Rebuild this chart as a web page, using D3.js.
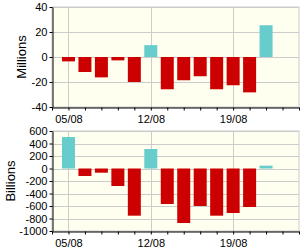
<!DOCTYPE html>
<html>
<head>
<meta charset="utf-8">
<script src="https://cdn.jsdelivr.net/npm/d3@7"></script>
<style>
  body { margin: 0; background: #fff; }
  svg { display: block; font-family: "Liberation Sans", Arial, sans-serif; }
</style>
</head>
<body>
<div id="chart"></div>
<script>
// dates (weekdays, Aug 2008); ticks run one per trading day
var days = ["04/08","05/08","06/08","07/08","08/08","11/08","12/08","13/08",
            "14/08","15/08","18/08","19/08","20/08","21/08","22/08","25/08"];
var barDays = ["05/08","06/08","07/08","08/08","11/08","12/08","13/08",
               "14/08","15/08","18/08","19/08","20/08","21/08"];
var labelDays = ["05/08","12/08","19/08"];

var millions = [-3.5, -12, -16.3, -2.7, -20, 9.5, -25.8, -18.6, -15.4, -25.8, -22.6, -28.3, 25.4];
var billions = [504, -120, -67, -280, -755, 312, -568, -872, -600, -755, -712, -616, 45];

var topTicks = [40, 20, 0, -20, -40];
var bottomTicks = [600, 400, 200, 0, -200, -400, -600, -800, -1000];

var width = 300, height = 250;
var svg = d3.select("#chart").append("svg")
    .attr("width", width)
    .attr("height", height);

var margin = {left: 52, right: 1};
var x = d3.scaleLinear()
    .domain([0, days.length - 1])
    .range([margin.left, width - margin.right]);

function drawPanel(top, bottom, values, yTicks, title, titleX) {
    var y = d3.scaleLinear()
        .domain([yTicks[yTicks.length - 1], yTicks[0]])
        .range([bottom, top]);
    var g = svg.append("g");

    g.append("rect")
        .attr("x", x.range()[0])
        .attr("y", top)
        .attr("width", x.range()[1] - x.range()[0])
        .attr("height", bottom - top)
        .attr("fill", "#fffff0")
        .attr("stroke", "#cccccc");

    // horizontal grid
    g.selectAll(".hgrid").data(yTicks).enter().append("line")
        .attr("x1", x.range()[0]).attr("x2", x.range()[1])
        .attr("y1", d => Math.round(y(d)) + 0.5)
        .attr("y2", d => Math.round(y(d)) + 0.5)
        .attr("stroke", "#cccccc");

    // vertical grid on labelled days
    g.selectAll(".vgrid").data(labelDays).enter().append("line")
        .attr("x1", d => Math.round(x(days.indexOf(d))) + 0.5)
        .attr("x2", d => Math.round(x(days.indexOf(d))) + 0.5)
        .attr("y1", top).attr("y2", bottom)
        .attr("stroke", "#cccccc");

    var bw = 13;
    g.selectAll(".bar").data(values).enter().append("rect")
        .attr("x", (d, i) => x(days.indexOf(barDays[i])) - bw / 2)
        .attr("width", bw)
        .attr("y", d => y(Math.max(0, d)))
        .attr("height", d => Math.abs(y(d) - y(0)))
        .attr("fill", d => d >= 0 ? "#66cccc" : "#cc0000");

    // y axis
    var yAxis = d3.axisLeft(y).tickValues(yTicks).tickSize(3).tickSizeOuter(0)
        .tickFormat(d => String(d));
    var ya = g.append("g")
        .attr("transform", "translate(" + (x.range()[0] + 0.5) + ",0)")
        .call(yAxis);
    ya.select(".domain").attr("stroke", "#000");
    ya.selectAll("text").attr("font-size", 11).attr("fill", "#000").attr("dx", 1);

    // x axis
    var xAxis = d3.axisBottom(x)
        .tickValues(d3.range(days.length))
        .tickSize(3).tickSizeOuter(0)
        .tickFormat(i => labelDays.indexOf(days[i]) >= 0 ? days[i] : "");
    var xa = g.append("g")
        .attr("transform", "translate(0," + (bottom + 0.5) + ")")
        .call(xAxis);
    xa.select(".domain").attr("stroke", "#000");
    xa.selectAll("text").attr("font-size", 11).attr("fill", "#000").attr("dy", "0.9em");

    g.append("text")
        .attr("transform", "translate(" + titleX + "," + ((top + bottom) / 2) + ") rotate(-90)")
        .attr("text-anchor", "middle")
        .attr("font-size", 13)
        .attr("fill", "#000")
        .text(title);
}

drawPanel(7, 107, millions, topTicks, "Millions", 26);
drawPanel(131, 231, billions, bottomTicks, "Billions", 15);
</script>
</body>
</html>
